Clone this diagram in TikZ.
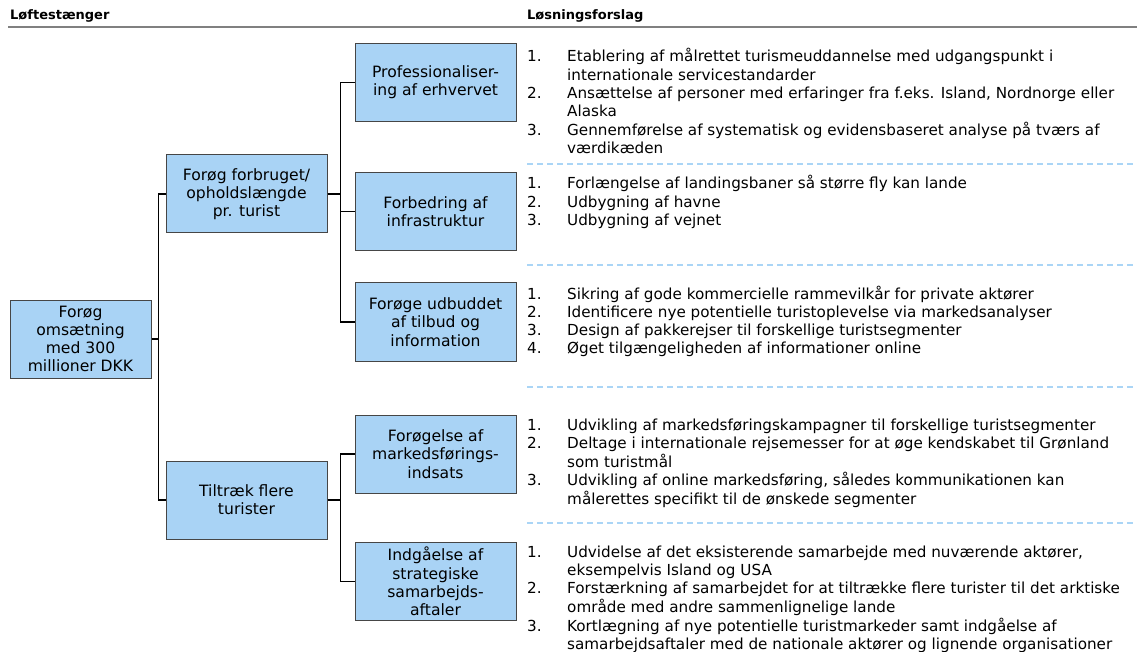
\documentclass[tikz,border=0pt]{standalone}
\usepackage{fontspec}
\setmainfont{DejaVu Sans}
\usetikzlibrary{positioning}
\definecolor{boxblue}{RGB}{169,211,245}
\definecolor{boxedge}{RGB}{70,70,70}
\definecolor{sepblue}{RGB}{170,213,246}
\definecolor{rulegray}{RGB}{128,128,128}

\begin{document}
\begin{tikzpicture}[x=1pt, y=-1pt,
  lever/.style={draw=boxedge, line width=1pt, fill=boxblue,
    minimum width=161pt, minimum height=78pt, inner sep=2pt,
    align=center, font=\fontsize{15.6}{18.2}\selectfont},
  link/.style={line width=1.5pt},
  sepline/.style={draw=sepblue, line width=1.5pt, dash pattern=on 6pt off 4pt},
  headtext/.style={anchor=base west, inner sep=0pt,
    font=\fontsize{13}{15}\selectfont\bfseries},
  sollist/.style={anchor=base west, inner sep=0pt,
    font=\fontsize{15.2}{18.2}\selectfont}]
  \useasboundingbox (0,0) rectangle (1140,652);

  % ---------- HEADER ----------
  \node[headtext] (hleft) at (10,20) {Løftestænger};
  \node[headtext] (hright) at (527,20) {Løsningsforslag};
  \coordinate (ruleL) at (8,27);
  \coordinate (ruleR) at (1137,27);
  \draw[rulegray, line width=1.5pt] (ruleL) -- (ruleR);

  % ---------- LEVERS ----------
  \node[lever, minimum width=141pt] (root) at (80.5,339)
    {Forøg\\omsætning\\med 300\\millioner DKK};
  \node[lever] (spend) at (246.5,194)
    {Forøg forbruget/\\opholdslængde\\pr. turist};
  \node[lever] (attract) at (246.5,500) {Tiltræk flere\\turister};
  \node[lever] (prof) at (435.5,82.5) {Professionaliser-\\ing af erhvervet};
  \node[lever] (infra) at (435.5,211.5) {Forbedring af\\infrastruktur};
  \node[lever] (offer) at (435.5,322) {Forøge udbuddet\\af tilbud og\\information};
  \node[lever] (market) at (435.5,454) {Forøgelse af\\markedsførings-\\indsats};
  \node[lever] (allies) at (435.5,581.5) {Indgåelse af\\strategiske\\samarbejds-\\aftaler};

  % ---------- CONNECTORS ----------
  \draw[link] (root.east) -- ++(7,0) |- (spend.west);
  \draw[link] (root.east) -- ++(7,0) |- (attract.west);
  \foreach \t in {prof,infra,offer}
    \draw[link] (spend.east) -- ++(13,0) |- (\t.west);
  \foreach \t in {market,allies}
    \draw[link] (attract.east) -- ++(13,0) |- (\t.west);

  % ---------- SEPARATORS ----------
  \foreach \y [count=\i] in {164,265,387,523} {
    \coordinate (sepL\i) at (527,\y);
    \coordinate (sepR\i) at (1133,\y);
    \draw[sepline] (sepL\i) -- (sepR\i);
  }

  % ---------- SOLUTIONS ----------
  \node[sollist] (solprof) at (527,62) {\begin{tabular}[t]{@{}p{40pt}@{}l@{}}
    1. & Etablering af målrettet turismeuddannelse med udgangspunkt i\\
       & internationale servicestandarder\\
    2. & Ansættelse af personer med erfaringer fra f.eks. Island, Nordnorge eller\\
       & Alaska\\
    3. & Gennemførelse af systematisk og evidensbaseret analyse på tværs af\\
       & værdikæden
  \end{tabular}};
  \node[sollist] (solinfra) at (527,189) {\begin{tabular}[t]{@{}p{40pt}@{}l@{}}
    1. & Forlængelse af landingsbaner så større fly kan lande\\
    2. & Udbygning af havne\\
    3. & Udbygning af vejnet
  \end{tabular}};
  \node[sollist] (soloffer) at (527,299) {\begin{tabular}[t]{@{}p{40pt}@{}l@{}}
    1. & Sikring af gode kommercielle rammevilkår for private aktører\\
    2. & Identificere nye potentielle turistoplevelse via markedsanalyser\\
    3. & Design af pakkerejser til forskellige turistsegmenter\\
    4. & Øget tilgængeligheden af informationer online
  \end{tabular}};
  \node[sollist] (solmarket) at (527,430) {\begin{tabular}[t]{@{}p{40pt}@{}l@{}}
    1. & Udvikling af markedsføringskampagner til forskellige turistsegmenter\\
    2. & Deltage i internationale rejsemesser for at øge kendskabet til Grønland\\
       & som turistmål\\
    3. & Udvikling af online markedsføring, således kommunikationen kan\\
       & målerettes specifikt til de ønskede segmenter
  \end{tabular}};
  \node[sollist] (solallies) at (527,557) {\begin{tabular}[t]{@{}p{40pt}@{}l@{}}
    1. & Udvidelse af det eksisterende samarbejde med nuværende aktører,\\
       & eksempelvis Island og USA\\
    2. & Forstærkning af samarbejdet for at tiltrække flere turister til det arktiske\\
       & område med andre sammenlignelige lande\\
    3. & Kortlægning af nye potentielle turistmarkeder samt indgåelse af\\
       & samarbejdsaftaler med de nationale aktører og lignende organisationer
  \end{tabular}};
\end{tikzpicture}
\end{document}
